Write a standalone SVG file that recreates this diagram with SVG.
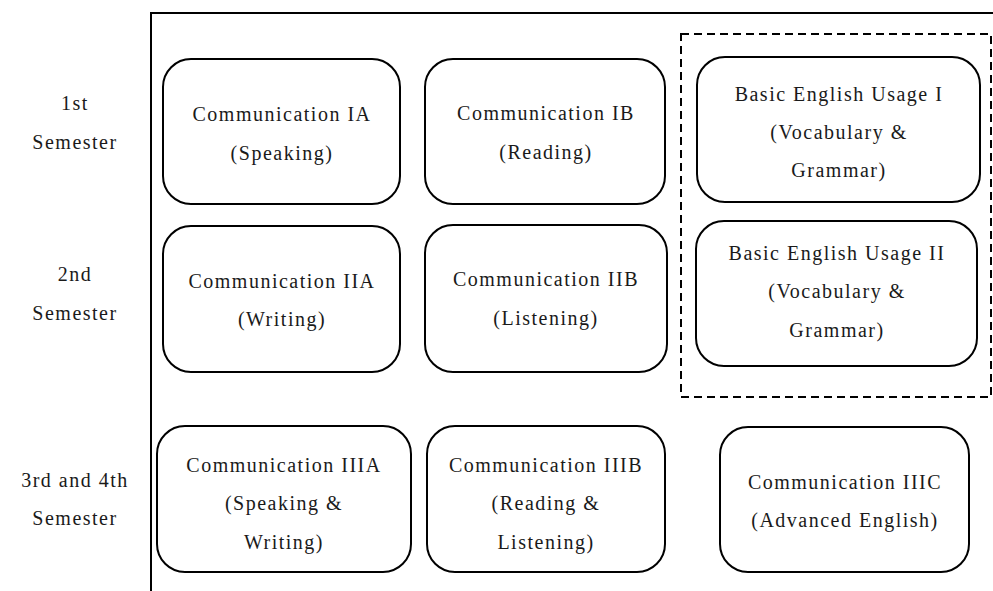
<svg xmlns="http://www.w3.org/2000/svg" width="993" height="591" viewBox="0 0 993 591">
<style>
text{font-family:"Liberation Serif","Times New Roman",serif;font-size:20px;letter-spacing:1.5px;fill:#1a1a1a;text-anchor:middle}
.box{fill:#fff;stroke:#000;stroke-width:2}
.frame{fill:none;stroke:#000;stroke-width:2}
.dash{fill:none;stroke:#000;stroke-width:2;stroke-dasharray:8 5}
</style>
<rect width="993" height="591" fill="#fff"/>
<g id="frame">
<line class="frame" x1="151" y1="12" x2="151" y2="591"/>
<line class="frame" x1="150" y1="13" x2="993" y2="13"/>
</g>
<g id="labels">
<text x="75" y="110">1st</text>
<text x="75" y="149">Semester</text>
<text x="75" y="281">2nd</text>
<text x="75" y="320">Semester</text>
<text x="75" y="487">3rd and 4th</text>
<text x="75" y="525">Semester</text>
</g>
<g id="group-basic">
<rect class="dash" x="681" y="34" width="310" height="363"/>
</g>
<g id="n-ia">
<rect class="box" x="163" y="59" width="237" height="145" rx="28"/>
<text x="282" y="121">Communication IA</text>
<text x="282" y="160">(Speaking)</text>
</g>
<g id="n-ib">
<rect class="box" x="425" y="59" width="240" height="145" rx="28"/>
<text x="546" y="120">Communication IB</text>
<text x="546" y="159">(Reading)</text>
</g>
<g id="n-beu1">
<rect class="box" x="697" y="57" width="283" height="145" rx="28"/>
<text x="839" y="101">Basic English Usage I</text>
<text x="839" y="139">(Vocabulary &amp;</text>
<text x="839" y="177">Grammar)</text>
</g>
<g id="n-iia">
<rect class="box" x="163" y="226" width="237" height="146" rx="28"/>
<text x="282" y="288">Communication IIA</text>
<text x="282" y="326">(Writing)</text>
</g>
<g id="n-iib">
<rect class="box" x="425" y="225" width="242" height="147" rx="28"/>
<text x="546" y="286">Communication IIB</text>
<text x="546" y="325">(Listening)</text>
</g>
<g id="n-beu2">
<rect class="box" x="696" y="221" width="281" height="145" rx="28"/>
<text x="837" y="260">Basic English Usage II</text>
<text x="837" y="298">(Vocabulary &amp;</text>
<text x="837" y="337">Grammar)</text>
</g>
<g id="n-iiia">
<rect class="box" x="157" y="426" width="254" height="146" rx="28"/>
<text x="284" y="472">Communication IIIA</text>
<text x="284" y="510">(Speaking &amp;</text>
<text x="284" y="549">Writing)</text>
</g>
<g id="n-iiib">
<rect class="box" x="427" y="426" width="238" height="146" rx="28"/>
<text x="546" y="472">Communication IIIB</text>
<text x="546" y="510">(Reading &amp;</text>
<text x="546" y="549">Listening)</text>
</g>
<g id="n-iiic">
<rect class="box" x="720" y="427" width="249" height="145" rx="28"/>
<text x="845" y="489">Communication IIIC</text>
<text x="845" y="527">(Advanced English)</text>
</g>
<g id="connectors"></g>
</svg>
